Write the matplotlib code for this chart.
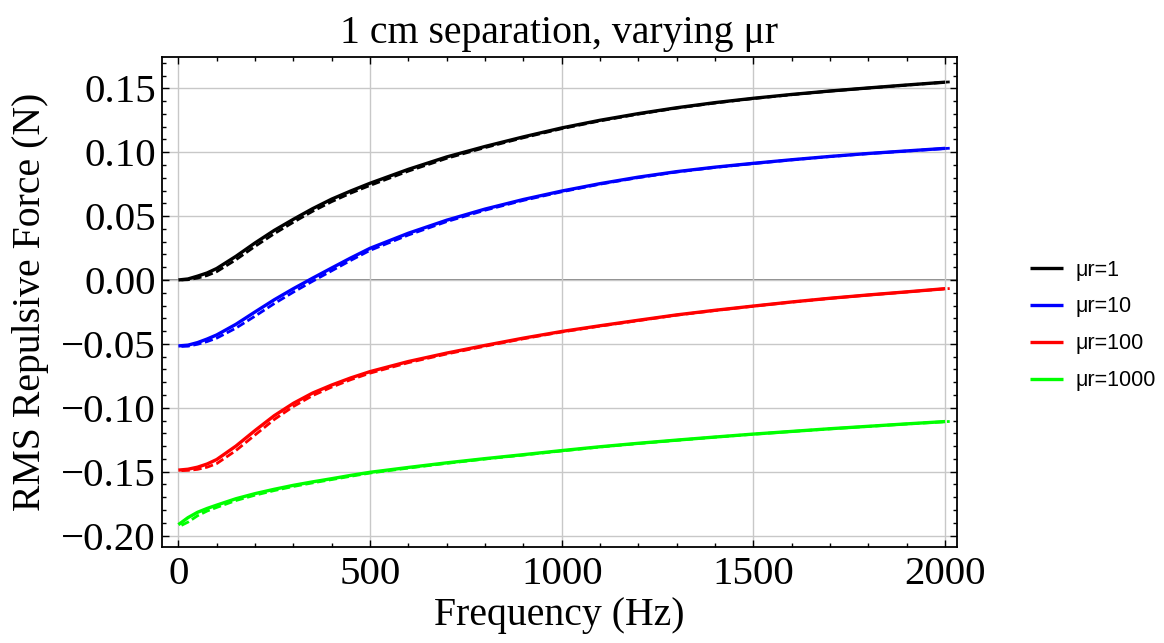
import matplotlib
matplotlib.use("Agg")
import matplotlib.pyplot as plt
import numpy as np

# ---- data ----
freq = [0, 25, 50, 75, 100, 150, 200, 250, 300, 350, 400, 450, 500, 600, 700, 800,
        900, 1000, 1100, 1200, 1300, 1400, 1500, 1600, 1700, 1800, 1900, 2000]

mu1_solid = [0.0, 0.0008, 0.0030, 0.0055, 0.0090, 0.0185, 0.0290, 0.0388, 0.0475,
             0.0558, 0.0633, 0.0697, 0.0757, 0.0866, 0.0963, 0.1045, 0.1120, 0.1190,
             0.1250, 0.1302, 0.1348, 0.1388, 0.1422, 0.1452, 0.1479, 0.1503, 0.1526,
             0.1548]
mu10_solid = [-0.0516, -0.0510, -0.0490, -0.0462, -0.0430, -0.0347, -0.0250, -0.0155,
              -0.0068, 0.0014, 0.0094, 0.0173, 0.0248, 0.0366, 0.0468, 0.0555, 0.0630,
              0.0696, 0.0754, 0.0805, 0.0848, 0.0883, 0.0913, 0.0941, 0.0967, 0.0990,
              0.1010, 0.1030]
mu100_solid = [-0.1488, -0.1481, -0.1465, -0.1440, -0.1405, -0.1300, -0.1178, -0.1062,
               -0.0965, -0.0885, -0.0822, -0.0766, -0.0717, -0.0638, -0.0572, -0.0512,
               -0.0455, -0.0403, -0.0358, -0.0315, -0.0273, -0.0237, -0.0204, -0.0172,
               -0.0143, -0.0117, -0.0093, -0.0068]
mu1000_solid = [-0.1915, -0.1860, -0.1818, -0.1788, -0.1762, -0.1712, -0.1672, -0.1638,
                -0.1607, -0.1580, -0.1555, -0.1529, -0.1505, -0.1467, -0.1431, -0.1398,
                -0.1367, -0.1335, -0.1305, -0.1278, -0.1253, -0.1229, -0.1206, -0.1185,
                -0.1164, -0.1145, -0.1126, -0.1108]

freq_dash = [8, 25, 50, 75, 100, 150, 200, 250, 300, 350, 400, 450, 500, 600, 700, 800,
             900, 1000, 1100, 1200, 1300, 1400, 1500, 1600, 1700, 1800, 1900, 2000, 2012]
mu1_dash = [0.0, 0.0002, 0.0015, 0.0035, 0.0065, 0.0158, 0.0263, 0.0362, 0.0452,
            0.0537, 0.0613, 0.0680, 0.0740, 0.0852, 0.0952, 0.1036, 0.1113, 0.1184,
            0.1245, 0.1298, 0.1345, 0.1385, 0.1420, 0.1450, 0.1478, 0.1502, 0.1525,
            0.1548, 0.1550]
mu10_dash = [-0.0520, -0.0518, -0.0503, -0.0482, -0.0455, -0.0377, -0.0283, -0.0185,
             -0.0095, -0.0010, 0.0072, 0.0154, 0.0232, 0.0352, 0.0457, 0.0546, 0.0623,
             0.0690, 0.0750, 0.0801, 0.0845, 0.0881, 0.0911, 0.0940, 0.0966, 0.0989,
             0.1009, 0.1029, 0.1031]
mu100_dash = [-0.1492, -0.1490, -0.1482, -0.1465, -0.1437, -0.1335, -0.1213, -0.1092,
              -0.0990, -0.0905, -0.0838, -0.0780, -0.0729, -0.0647, -0.0579, -0.0518,
              -0.0460, -0.0407, -0.0361, -0.0318, -0.0275, -0.0239, -0.0205, -0.0173,
              -0.0144, -0.0118, -0.0094, -0.0069, -0.0067]
mu1000_dash = [-0.1920, -0.1895, -0.1845, -0.1808, -0.1780, -0.1726, -0.1684, -0.1648,
               -0.1616, -0.1588, -0.1562, -0.1536, -0.1511, -0.1472, -0.1435, -0.1401,
               -0.1370, -0.1338, -0.1307, -0.1280, -0.1255, -0.1230, -0.1207, -0.1186,
               -0.1165, -0.1146, -0.1127, -0.1109, -0.1107]

labels = ["μr=1", "μr=10", "μr=100", "μr=1000"]
colors = ["#000000", "#0000ff", "#ff0000", "#00ff00"]

title = "1 cm separation, varying μr"
xlabel = "Frequency (Hz)"
ylabel = "RMS Repulsive Force (N)"
xticks = [0, 500, 1000, 1500, 2000]
yticks = [-0.20, -0.15, -0.10, -0.05, 0.00, 0.05, 0.10, 0.15]

# ---- plotting ----
W, H = 1164, 643
fig = plt.figure(figsize=(W / 100, H / 100), dpi=100)
ax = fig.add_axes([161.5 / W, 1 - 547.3 / H, (957 - 161.5) / W, (547.3 - 57) / H])

serif = ["Liberation Serif", "DejaVu Serif"]
fs = 28.6
fs_tick = 29.5

solids = [mu1_solid, mu10_solid, mu100_solid, mu1000_solid]
dashes = [mu1_dash, mu10_dash, mu100_dash, mu1000_dash]

ax.axhline(0, color="#858585", lw=1.4, zorder=1)
for s, d, c, lab in zip(solids, dashes, colors, labels):
    ax.plot(freq_dash, d, color=c, lw=2.0, linestyle=(0, (3.0, 1.3)), zorder=3)
    ax.plot(freq, s, color=c, lw=2.4, label=lab, zorder=4,
            solid_joinstyle="round", solid_capstyle="butt")

ax.set_xlim(-44, 2031)
ax.set_ylim(-0.2092, 0.1745)
ax.set_xticks(xticks)
ax.set_yticks(yticks)
ax.set_xticks(np.arange(0, 2001, 100), minor=True)
ax.set_yticks(np.arange(-0.20, 0.171, 0.01), minor=True)
ax.set_xticklabels([str(v) for v in xticks], family=serif, fontsize=fs_tick)
ax.set_yticklabels(["\u22120.%02d" % round(abs(v) * 100) if v < -1e-9 else "0.%02d" % round(v * 100)
                    for v in yticks], family=serif, fontsize=fs_tick)

ax.grid(True, which="major", color="#c8c8c8", lw=1.0, zorder=0)
ax.tick_params(which="both", direction="in", top=True, right=True, color="black", width=1.0)
ax.tick_params(which="major", length=5, pad=6)
ax.tick_params(which="minor", length=3)
ax.tick_params(axis="y", which="major", pad=4)
for sp in ax.spines.values():
    sp.set_linewidth(1.3)
    sp.set_color("black")

ax.set_title(title, family=serif, fontsize=fs, pad=10)
ax.set_xlabel(xlabel, family=serif, fontsize=fs, labelpad=3)
ax.set_ylabel(ylabel, family=serif, fontsize=fs, labelpad=9)

leg = ax.legend(loc="center left", bbox_to_anchor=(1.0674, 0.4525), frameon=False,
                prop={"family": ["Liberation Sans", "DejaVu Sans"], "size": 15.5},
                handlelength=1.55, labelspacing=0.74, handletextpad=0.56)
for h in leg.get_lines():
    h.set_linewidth(2.4)

fig.savefig("out.png", dpi=100)
